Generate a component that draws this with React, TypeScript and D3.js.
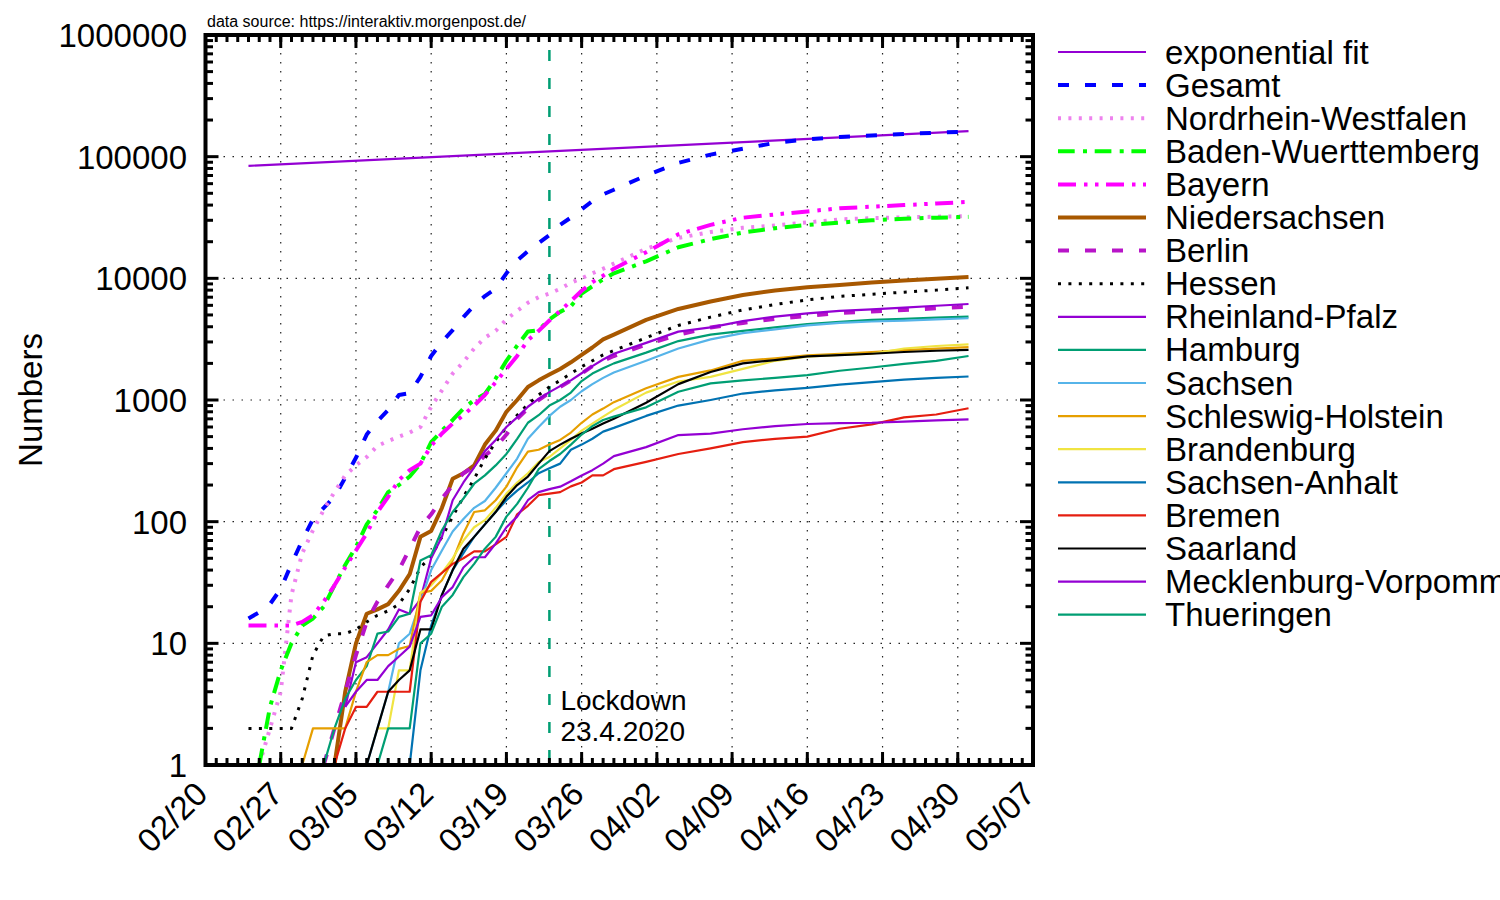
import * as d3 from "d3";

// daily up to 03/29, then every third day
const DATES = [
  "2020-02-24", "2020-02-25", "2020-02-26", "2020-02-27", "2020-02-28", "2020-02-29",
  "2020-03-01", "2020-03-02", "2020-03-03", "2020-03-04", "2020-03-05", "2020-03-06", "2020-03-07",
  "2020-03-08", "2020-03-09", "2020-03-10", "2020-03-11", "2020-03-12", "2020-03-13", "2020-03-14",
  "2020-03-15", "2020-03-16", "2020-03-17", "2020-03-18", "2020-03-19", "2020-03-20", "2020-03-21",
  "2020-03-22", "2020-03-23", "2020-03-24", "2020-03-25", "2020-03-26", "2020-03-27", "2020-03-28",
  "2020-03-29",
  "2020-04-01", "2020-04-04", "2020-04-07", "2020-04-10", "2020-04-13", "2020-04-16", "2020-04-19",
  "2020-04-22", "2020-04-25", "2020-04-28", "2020-05-01",
];

const FIT_DATES = ["2020-02-24", "2020-05-01"];
const FIT_VALUES = [84000, 162000];

const _ = null;

const GESAMT = [16, 18, 21, 28, 45, 70,
  105, 130, 160, 230, 335, 520, 670, 830, 1100, 1140,
  1550, 2300, 3000, 3750, 4800, 6000, 7150, 8200, 11000, 14000,
  16700, 19500, 22700, 27500, 31600, 37000, 43000, 49000, 53500,
  70000, 89000, 104000, 116000, 130000, 139000, 145000, 149000, 153500, 157500, 161000];

const NRW = [_, 1, 2, 4, 25, 55,
  85, 125, 175, 240, 290, 340, 420, 460, 500, 540,
  600, 880, 1200, 1650, 2050, 2650, 3250, 3700, 4600, 5400,
  6300, 7000, 7500, 8200, 9200, 10000, 11000, 12000, 13200,
  17500, 21500, 24000, 26000, 27200, 28800, 30500, 31200, 31700, 32100, 32500];

const BW = [_, 1, 3, 6, 10, 14,
  16, 20, 30, 44, 62, 95, 125, 175, 200, 235,
  300, 450, 560, 685, 850, 1000, 1120, 1500, 2100, 2800,
  3650, 3750, 4600, 5300, 5900, 7500, 8600, 9800, 11000,
  13800, 18000, 21000, 23800, 25800, 27500, 28700, 30000, 30900, 31500, 32000];

const BAYERN = [14, 14, 14, 14, 14, 15,
  17, 22, 30, 42, 58, 80, 120, 160, 220, 265,
  300, 420, 530, 640, 750, 900, 1100, 1400, 1800, 2300,
  3100, 3700, 4500, 5400, 6500, 7900, 9300, 10500, 12000,
  16400, 23000, 27500, 31500, 33500, 35500, 37600, 38800, 40000, 41200, 42500];

const NIEDERSACHSEN = [_, _, _, _, _, _,
  _, _, 1, 4, 10, 17.5, 19, 21, 27, 37,
  75, 84, 130, 225, 250, 290, 430, 560, 800, 1000,
  1280, 1450, 1620, 1800, 2040, 2350, 2700, 3150, 3450,
  4550, 5600, 6450, 7300, 7950, 8450, 8800, 9250, 9600, 9900, 10250];

const BERLIN = [_, _, _, _, _, _,
  _, 1, 2, 4, 8, 15, 22, 30, 40, 60,
  90, 115, 155, 200, 250, 285, 350, 410, 520, 700,
  850, 1000, 1150, 1280, 1450, 1650, 1900, 2100, 2300,
  2850, 3450, 3950, 4300, 4650, 4900, 5200, 5350, 5480, 5680, 5850];

const HESSEN = [2, 2, 2, 2, 2, 3.5,
  8, 11.5, 12, 12, 13, 15, 17, 18.5, 21, 28,
  42, 52, 75, 110, 160, 225, 330, 450, 600, 750,
  920, 1100, 1280, 1450, 1650, 1880, 2100, 2350, 2550,
  3250, 4100, 4800, 5500, 6100, 6650, 7100, 7400, 7700, 8000, 8350];

const RHEINLAND_PFALZ = [_, _, _, _, _, _,
  _, _, _, 3, 7, 7.7, 10, 13, 19, 17.5,
  23, 50, 75, 150, 210, 280, 380, 470, 600, 720,
  880, 1020, 1160, 1300, 1450, 1660, 1900, 2150, 2400,
  2950, 3650, 3950, 4450, 4850, 5150, 5400, 5550, 5750, 5950, 6150];

const HAMBURG = [_, _, _, _, _, _,
  _, 1, 2, 3.5, 5, 6.5, 12, 12.5, 16.5, 17.5,
  48, 53, 85, 120, 155, 205, 240, 290, 360, 480,
  650, 750, 900, 1000, 1150, 1430, 1650, 1820, 2000,
  2450, 3050, 3450, 3700, 3950, 4200, 4380, 4550, 4650, 4750, 4850];

const SACHSEN = [_, _, _, _, _, _,
  _, _, _, _, _, 1, 2, 4, 10, 12,
  22, 40, 58, 83, 105, 130, 148, 190, 250, 330,
  480, 600, 740, 880, 1000, 1180, 1350, 1520, 1680,
  2100, 2650, 3150, 3550, 3800, 4100, 4300, 4420, 4500, 4600, 4700];

const SCHLESWIG_HOLSTEIN = [_, _, _, _, _, 1,
  2, 2, 2, 2, 4, 7, 8, 8, 9, 9.5,
  26, 27, 33, 48, 80, 120, 124, 150, 194, 280,
  377, 390, 430, 470, 540, 650, 760, 850, 960,
  1250, 1550, 1750, 2100, 2200, 2330, 2400, 2480, 2570, 2640, 2720];

const BRANDENBURG = [_, _, _, _, _, _,
  _, _, _, _, _, _, 2, 2, 6, 6,
  26, 30, 38, 50, 70, 90, 103, 130, 170, 210,
  250, 310, 340, 400, 470, 560, 640, 730, 830,
  1150, 1420, 1550, 1800, 2100, 2270, 2350, 2400, 2650, 2780, 2870];

const SACHSEN_ANHALT = [_, _, _, _, _, _,
  _, _, _, _, _, _, _, _, _, 1,
  6, 14, 25, 40, 55, 75, 95, 120, 150, 180,
  210, 250, 275, 300, 390, 430, 480, 550, 590,
  740, 900, 1000, 1130, 1200, 1260, 1340, 1400, 1470, 1520, 1560];

const BREMEN = [_, _, _, _, _, _,
  _, _, 1, 2, 3, 3, 4, 4, 4, 4,
  22, 32, 38, 45, 50, 57, 57, 65, 75, 115,
  135, 165, 170, 175, 195, 210, 240, 240, 270,
  310, 360, 400, 450, 480, 500, 580, 630, 720, 760, 855];

const SAARLAND = [_, _, _, _, _, _,
  _, _, _, _, _, 1, 2, 4, 5, 6,
  13, 13, 25, 40, 60, 75, 95, 120, 160, 200,
  235, 300, 380, 430, 480, 530, 580, 640, 700,
  950, 1350, 1700, 2000, 2130, 2280, 2340, 2400, 2480, 2540, 2580];

const MECKLENBURG_VORPOMMERN = [_, _, _, _, _, _,
  _, _, _, 3, 4, 5, 5, 6.5, 7.8, 9.4,
  16.5, 17, 24, 29, 42, 51, 51, 66, 90, 110,
  150, 175, 185, 194, 215, 240, 265, 300, 346,
  410, 515, 530, 575, 610, 635, 645, 650, 665, 680, 694];

const THUERINGEN = [_, _, _, _, _, _,
  _, _, _, _, _, _, 1, 2, 2, 2,
  10, 12, 20, 25, 35, 45, 60, 75, 110, 140,
  190, 270, 315, 360, 430, 520, 610, 685, 730,
  870, 1170, 1370, 1450, 1520, 1600, 1740, 1850, 1980, 2100, 2300];

const X_TICKS = ["2020-02-20", "2020-02-27", "2020-03-05", "2020-03-12", "2020-03-19", "2020-03-26",
  "2020-04-02", "2020-04-09", "2020-04-16", "2020-04-23", "2020-04-30", "2020-05-07"];
const Y_TICKS = [1, 10, 100, 1000, 10000, 100000, 1000000];
const LOCKDOWN_DATE = "2020-03-23";

type Style = { color: string; width: number; dash?: string };

const SERIES: { name: string; values: (number | null)[]; style: Style }[] = [
  { name: "Gesamt", values: GESAMT, style: { color: "#0000ff", width: 4, dash: "11 16" } },
  { name: "Nordrhein-Westfalen", values: NRW, style: { color: "#ee82ee", width: 4, dash: "3 7.4" } },
  { name: "Baden-Wuerttemberg", values: BW, style: { color: "#00ff00", width: 4, dash: "16.7 8.3 4 7.7" } },
  { name: "Bayern", values: BAYERN, style: { color: "#ff00ff", width: 4, dash: "18 8 3.5 7.5 3.5 7.5" } },
  { name: "Niedersachsen", values: NIEDERSACHSEN, style: { color: "#a85800", width: 4 } },
  { name: "Berlin", values: BERLIN, style: { color: "#b814c8", width: 4, dash: "11 16" } },
  { name: "Hessen", values: HESSEN, style: { color: "#000000", width: 3, dash: "3 7.4" } },
  { name: "Rheinland-Pfalz", values: RHEINLAND_PFALZ, style: { color: "#9400d3", width: 2.2 } },
  { name: "Hamburg", values: HAMBURG, style: { color: "#009e73", width: 2.2 } },
  { name: "Sachsen", values: SACHSEN, style: { color: "#56b4e9", width: 2.2 } },
  { name: "Schleswig-Holstein", values: SCHLESWIG_HOLSTEIN, style: { color: "#e69f00", width: 2.2 } },
  { name: "Brandenburg", values: BRANDENBURG, style: { color: "#f0e442", width: 2.2 } },
  { name: "Sachsen-Anhalt", values: SACHSEN_ANHALT, style: { color: "#0072b2", width: 2.2 } },
  { name: "Bremen", values: BREMEN, style: { color: "#e51e10", width: 2.2 } },
  { name: "Saarland", values: SAARLAND, style: { color: "#000000", width: 2.2 } },
  { name: "Mecklenburg-Vorpommern", values: MECKLENBURG_VORPOMMERN, style: { color: "#9400d3", width: 2.2 } },
  { name: "Thueringen", values: THUERINGEN, style: { color: "#009e73", width: 2.2 } },
];

const FIT_STYLE: Style = { color: "#9400d3", width: 2.2 };

const W = 1500;
const H = 900;
const L = 205.5;
const R = 1033;
const T = 35;
const B = 765;
const FONT = "'Liberation Sans', Arial, Helvetica, sans-serif";
const FS = 33;

const parse = d3.utcParse("%Y-%m-%d");
const fmt = d3.utcFormat("%m/%d");

export default function App() {
  const x = d3.scaleUtc()
    .domain([parse(X_TICKS[0])!, parse(X_TICKS[X_TICKS.length - 1])!])
    .range([L, R]);
  const y = d3.scaleLog().domain([1, 1e6]).range([B, T]);

  const dates = DATES.map((d) => parse(d)!);
  const line = d3.line<number | null>()
    .defined((d) => d != null)
    .x((_d, i) => x(dates[i]))
    .y((d) => y(d as number));

  const fitLine = d3.line<number>()
    .x((_d, i) => x(parse(FIT_DATES[i])!))
    .y((d) => y(d));

  const minorX = d3.utcDay.range(x.domain()[0], x.domain()[1]);
  const minorY: number[] = [];
  for (let k = 0; k < 6; k++) for (let m = 2; m < 10; m++) minorY.push(m * 10 ** k);

  const lockX = x(parse(LOCKDOWN_DATE)!);

  const legend = [{ name: "exponential fit", style: FIT_STYLE }, ...SERIES];

  return (
    <svg width={W} height={H} style={{ position: "absolute", left: 0, top: 0, background: "#fff" }}
      fontFamily={FONT}>
      <defs>
        <clipPath id="plot">
          <rect x={L} y={T} width={R - L} height={B - T} />
        </clipPath>
      </defs>

      {/* grid */}
      <g stroke="#222" strokeWidth={1.2} strokeDasharray="1.5 7.5">
        {X_TICKS.slice(1, -1).map((t) => (
          <line key={t} x1={x(parse(t)!)} x2={x(parse(t)!)} y1={T} y2={B} />
        ))}
        {Y_TICKS.slice(1, -1).map((v) => (
          <line key={v} x1={L} x2={R} y1={y(v)} y2={y(v)} />
        ))}
      </g>

      {/* lockdown marker */}
      <line x1={lockX} x2={lockX} y1={T} y2={B} stroke="#009e73" strokeWidth={2.5}
        strokeDasharray="11 17" strokeDashoffset={-15} />
      <text x={lockX + 11} y={710} fontSize={28}>Lockdown</text>
      <text x={lockX + 11} y={741} fontSize={28}>23.4.2020</text>

      <g clipPath="url(#plot)" fill="none" strokeLinejoin="round">
        <path d={fitLine(FIT_VALUES) ?? ""} stroke={FIT_STYLE.color} strokeWidth={FIT_STYLE.width} />
        {SERIES.map((s) => (
          <path key={s.name} d={line(s.values) ?? ""} stroke={s.style.color}
            strokeWidth={s.style.width} strokeDasharray={s.style.dash} />
        ))}
      </g>

      {/* ticks */}
      <g stroke="#000" strokeWidth={3}>
        {minorX.map((d, i) => (
          <g key={"mx" + i}>
            <line x1={x(d)} x2={x(d)} y1={B} y2={B - 7} />
            <line x1={x(d)} x2={x(d)} y1={T} y2={T + 7} />
          </g>
        ))}
        {X_TICKS.map((t) => (
          <g key={"Mx" + t}>
            <line x1={x(parse(t)!)} x2={x(parse(t)!)} y1={B} y2={B - 13} />
            <line x1={x(parse(t)!)} x2={x(parse(t)!)} y1={T} y2={T + 13} />
          </g>
        ))}
        {minorY.map((v) => (
          <g key={"my" + v}>
            <line x1={L} x2={L + 7.5} y1={y(v)} y2={y(v)} />
            <line x1={R} x2={R - 7.5} y1={y(v)} y2={y(v)} />
          </g>
        ))}
        {Y_TICKS.map((v) => (
          <g key={"My" + v}>
            <line x1={L} x2={L + 13} y1={y(v)} y2={y(v)} />
            <line x1={R} x2={R - 13} y1={y(v)} y2={y(v)} />
          </g>
        ))}
      </g>
      <rect x={L} y={T} width={R - L} height={B - T} fill="none" stroke="#000" strokeWidth={4} />

      {/* axis labels */}
      {Y_TICKS.map((v) => (
        <text key={"yl" + v} x={187} y={y(v) + 12} fontSize={FS} textAnchor="end">{v}</text>
      ))}
      {X_TICKS.map((t) => (
        <text key={"xl" + t} fontSize={FS} textAnchor="end"
          transform={`translate(${x(parse(t)!) + 4},796) rotate(-45)`}>{fmt(parse(t)!)}</text>
      ))}
      <text transform="translate(42,400) rotate(-90)" fontSize={FS} textAnchor="middle">Numbers</text>
      <text x={207} y={27} fontSize={16}>data source: https://interaktiv.morgenpost.de/</text>

      {/* legend */}
      {legend.map((s, i) => {
        const ly = 52 + i * 33.1;
        return (
          <g key={"lg" + s.name}>
            <line x1={1058} x2={1146} y1={ly} y2={ly} stroke={s.style.color}
              strokeWidth={s.style.width} strokeDasharray={s.style.dash} />
            <text x={1165} y={ly + 11.5} fontSize={FS}>{s.name}</text>
          </g>
        );
      })}
    </svg>
  );
}
